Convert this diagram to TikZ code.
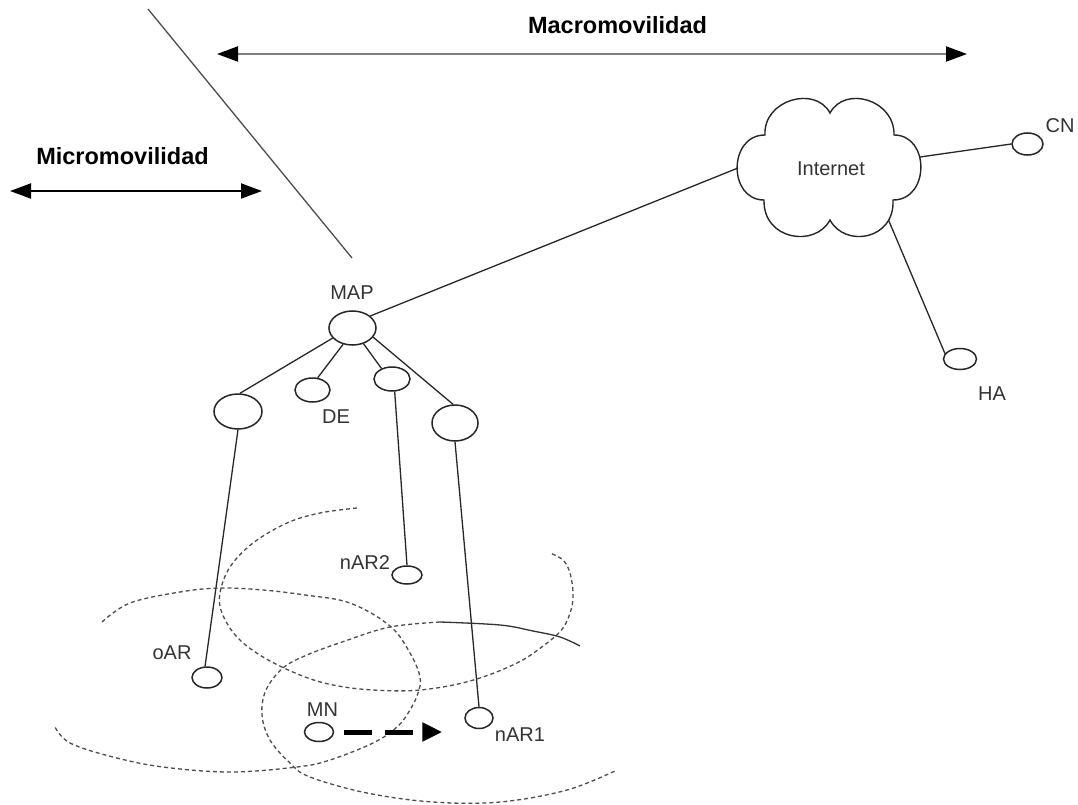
\documentclass[tikz,border=0pt]{standalone}
\usepackage{fontspec}
\setmainfont{Liberation Sans}
\usetikzlibrary{shapes.geometric,arrows.meta}

\begin{document}
\begin{tikzpicture}[x=1pt,y=-1pt,
  host/.style={draw=black!85,line width=1.5pt,ellipse,inner sep=0pt},
  lbl/.style={font=\fontsize{20}{24}\selectfont,text=black!80,inner sep=0pt},
  title/.style={font=\fontsize{23.5}{28}\selectfont\bfseries,inner sep=0pt},
  link/.style={draw=black!85,line width=1.3pt},
  cell/.style={draw=black!70,line width=1.3pt,dash pattern=on 4pt off 3pt},
  span/.style={line width=2pt,>={Triangle[length=21pt,width=15pt,color=black]},<->}
]
\useasboundingbox (0,0) rectangle (1078,805);

% domain boundary and scope arrows
\coordinate (divA) at (148,9);
\coordinate (divB) at (352,258);
\draw[draw=black!70,line width=1.3pt] (divA) -- (divB);

\coordinate (macroL) at (217,54);
\coordinate (macroR) at (967,54);
\draw[span,draw=black!50] (macroL) -- (macroR);
\node[title] (macro) at (617.5,25.5) {Macromovilidad};

\coordinate (microL) at (10,191);
\coordinate (microR) at (262,191);
\draw[span,draw=black] (microL) -- (microR);
\node[title] (micro) at (122.5,156.5) {Micromovilidad};

% Internet cloud
\draw[draw=black!85,line width=1.4pt]
  (765,135) .. controls (763,100) and (815,85) .. (830,113)
  .. controls (845,85) and (895,100) .. (894,135)
  .. controls (930,135) and (930,200) .. (893,200)
  .. controls (895,240) and (845,248) .. (830,220)
  .. controls (815,248) and (763,240) .. (764,200)
  .. controls (728,200) and (728,135) .. (765,135) -- cycle;
\node[lbl] (internet) at (831,168.5) {Internet};
\coordinate (inetW) at (738,168);
\coordinate (inetE) at (920,157);
\coordinate (inetS) at (888.5,220);

% hosts
\node[host,minimum width=31pt,minimum height=22pt] (cn) at (1027.5,144) {};
\node[lbl] (cnl) at (1060,126) {CN};
\node[host,minimum width=33pt,minimum height=21pt] (ha) at (960,359) {};
\node[lbl] (hal) at (992,394) {HA};

\node[host,minimum width=47pt,minimum height=34pt] (map) at (352.5,328) {};
\node[lbl] (mapl) at (352,293) {MAP};

\node[host,minimum width=48pt,minimum height=35pt] (l) at (238,411.5) {};
\node[host,minimum width=35pt,minimum height=24pt] (de) at (312.5,390) {};
\node[lbl] (del) at (336,417) {DE};
\node[host,minimum width=36pt,minimum height=24pt] (t) at (392,379) {};
\node[host,minimum width=46pt,minimum height=36pt] (r) at (455,423) {};

\node[host,minimum width=30pt,minimum height=21pt] (oar) at (207,677.5) {};
\node[lbl] (oarl) at (172,653) {oAR};
\node[host,minimum width=30pt,minimum height=18pt] (nar2) at (407,575) {};
\node[lbl] (nar2l) at (365,562.5) {nAR2};
\node[host,minimum width=28pt,minimum height=21pt] (nar1) at (479,718) {};
\node[lbl] (nar1l) at (520,734.5) {nAR1};
\node[host,minimum width=29pt,minimum height=19pt] (mn) at (319,732) {};
\node[lbl] (mnl) at (322.5,709.5) {MN};

% links
\draw[link] (map.34) -- (inetW);
\draw[link] (inetE) -- (cn.west);
\draw[link] (inetS) -- (ha.160);
\draw[link] (map.207) -- (l.84);
\draw[link] (map.240) -- (de.67);
\draw[link] (map.305) -- (t.135);
\draw[link] (map.336) -- (r.96);
\draw[link] (l.south) -- (oar.100);
\draw[link] (t.282) -- (nar2.north);
\draw[link] (r.south) -- (nar1.north);

% radio cells
\draw[cell] plot[smooth,tension=0.6] coordinates {
  (102,622) (130,603) (180,592) (220,588) (263,590) (305,595) (350,603)
  (390,626) (410,653) (420,677) (418,693) (410,710) (397,727) (373,743)
  (330,760) (297,767) (230,772) (163,767) (113,757) (70,743) (55,727)};
\draw[cell] plot[smooth,tension=0.6] coordinates {
  (357,508) (320,513) (287,523) (253,543) (230,567) (220,593) (222,613)
  (237,637) (263,657) (300,675) (333,685) (373,690) (420,690) (470,681)
  (517,663) (547,643) (563,628) (571,610) (573,593) (570,573)
  (563,560) (550,553)};
\draw[cell] plot[smooth,tension=0.6] coordinates {
  (440,622) (390,627) (345,641) (307,655) (283,668) (266,690) (262,715)
  (270,740) (290,763) (310,777) (367,793) (433,802) (500,802) (567,790)
  (617,770)};
\draw[draw=black!80,line width=1.3pt] plot[smooth,tension=0.6] coordinates {
  (440,622) (500,625) (533,631) (560,637) (580,646)};

% handover movement
\draw[line width=5pt,dash pattern=on 28pt off 13pt,
  -{Triangle[length=20pt,width=18pt]},shorten <=9.5pt,shorten >=22pt]
  (mn.east) -- (mn.east -| nar1.west);
\end{tikzpicture}
\end{document}
